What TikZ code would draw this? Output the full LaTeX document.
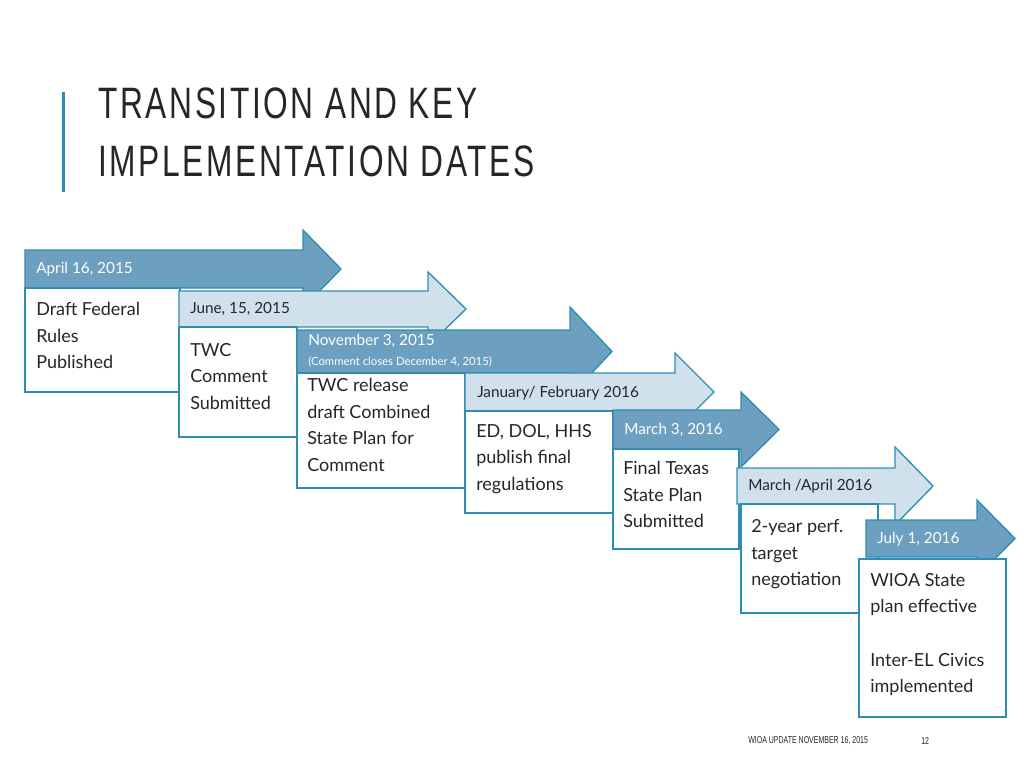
\documentclass[tikz,border=0pt]{standalone}
\usepackage{fontspec}
\setmainfont{Lato}
\newfontfamily\titlefont[FakeStretch=0.72,LetterSpace=6]{Liberation Sans}
\newfontfamily\footfont[FakeStretch=0.7]{Liberation Sans}
\definecolor{dk}{HTML}{6C9FC0}
\definecolor{lt}{HTML}{D0E1EB}
\definecolor{bd}{HTML}{2F8DB3}
\definecolor{tx}{HTML}{262626}
\newcommand{\tarrow}[8]{%
 \fill[#8,draw=bd,line width=1pt] (#2,#4) -- (#3,#4) -- (#3,#6) -- (#7,{(#4+#5)/2}) -- (#3,{#4+#5-#6}) -- (#3,#5) -- (#2,#5) -- cycle;}
\begin{document}
\begin{tikzpicture}[x=0.75pt,y=-0.75pt,
 box/.style={draw=bd,fill=white,line width=1pt},
 btxt/.style={anchor=north west,align=left,font=\fontsize{13.5}{20}\selectfont,text=tx,inner sep=0pt},
 dlab/.style={anchor=west,font=\fontsize{11.5}{13}\selectfont,inner sep=0pt}]
\useasboundingbox (0,0) rectangle (1024,768);
\fill[bd] (62,92) rectangle (64.5,192);
\node[anchor=north west,align=left,inner sep=0pt,text=tx,font=\titlefont\fontsize{33}{43}\selectfont] (title) at (98,88) {TRANSITION AND KEY\\IMPLEMENTATION DATES};
% 1
\tarrow{a1}{25}{303}{250}{288}{230}{341}{dk}
\node[dlab,text=white] (l1) at (36,269) {April 16, 2015};
\draw[box] (25,288) rectangle (180,392);
\node[btxt] (t1) at (36,302) {Draft Federal\\Rules\\Published};
% 2
\tarrow{a2}{179}{428}{291}{327}{272}{466}{lt}
\node[dlab,text=tx] (l2) at (190,309) {June, 15, 2015};
\draw[box] (179,327) rectangle (297,437);
\node[btxt] (t2) at (190,343) {TWC\\Comment\\Submitted};
% 3
\tarrow{a3}{297}{570}{330}{373}{307}{612}{dk}
\node[dlab,text=white] (l3) at (308,341) {November 3, 2015};
\node[dlab,text=white,font=\fontsize{8.5}{10}\selectfont] (l3b) at (308,362) {(Comment closes December 4, 2015)};
\draw[box] (297,373) rectangle (465,488);
\node[btxt] (t3) at (307,378) {TWC release\\draft Combined\\State Plan for\\Comment};
% 4
\tarrow{a4}{465}{675}{373}{411}{353}{714}{lt}
\node[dlab,text=tx] (l4) at (477,393) {January/ February 2016};
\draw[box] (465,411) rectangle (613,513);
\node[btxt] (t4) at (476,424) {ED, DOL, HHS\\publish final\\regulations};
% 5
\tarrow{a5}{613}{741}{410}{449}{392}{779}{dk}
\node[dlab,text=white] (l5) at (624,430) {March 3, 2016};
\draw[box] (613,449) rectangle (739,549);
\node[btxt] (t5) at (623,461) {Final Texas\\State Plan\\Submitted};
% 6
\tarrow{a6}{737}{895}{468}{504}{447}{933}{lt}
\node[dlab,text=tx] (l6) at (748,486) {March /April 2016};
\draw[box] (741,504) rectangle (878,613);
\node[btxt] (t6) at (751,519) {2-year perf.\\target\\negotiation};
% 7
\tarrow{a7}{866}{977}{520}{557}{500}{1015}{dk}
\node[dlab,text=white] (l7) at (877,539) {July 1, 2016};
\draw[box] (859,559) rectangle (1006,717);
\node[btxt] (t7) at (870,573) {WIOA State\\plan effective\\[20pt]Inter-EL Civics\\implemented};
\node[anchor=west,inner sep=0pt,text=tx,font=\footfont\fontsize{7.5}{9}\selectfont] (f1) at (748,741) {WIOA UPDATE NOVEMBER 16, 2015};
\node[anchor=west,inner sep=0pt,text=tx,font=\footfont\fontsize{7.5}{9}\selectfont] (f2) at (921,741) {12};
\end{tikzpicture}
\end{document}
